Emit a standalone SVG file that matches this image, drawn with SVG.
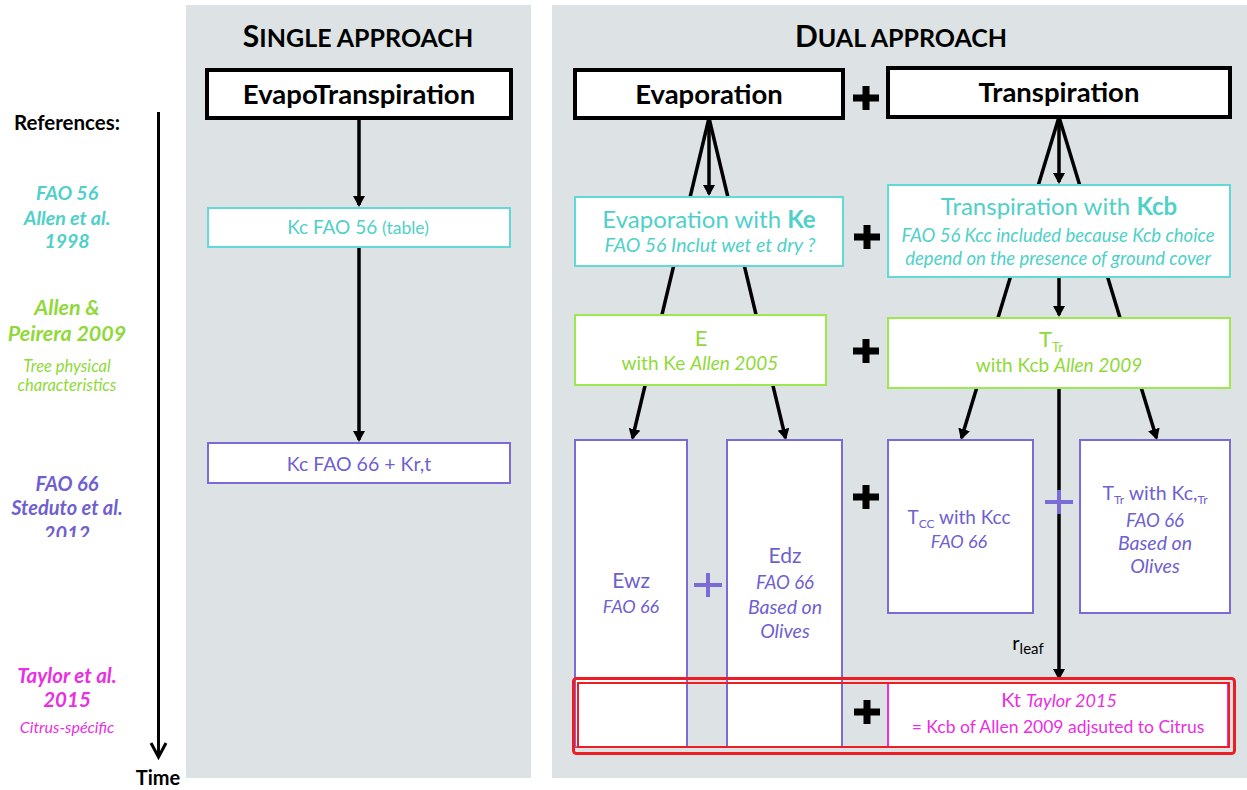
<svg xmlns="http://www.w3.org/2000/svg" width="1247" height="790" viewBox="0 0 1247 790">
<defs>
<style>
text{font-family:Lato,"Open Sans","Liberation Sans",sans-serif;text-anchor:middle}
.b{font-weight:bold}
.i{font-style:italic}
.panel{fill:#dde3e4}
.blk{fill:#fff;stroke:#000;stroke-width:4}
.cy{fill:#fff;stroke:#62d9d6;stroke-width:2}
.gr{fill:#fff;stroke:#9de84f;stroke-width:2}
.pu{fill:#fff;stroke:#7b6bd6;stroke-width:2}
.mg{fill:#fff;stroke:#ea2fe0;stroke-width:2}
.tcy{fill:#4fd0c8}
.tgr{fill:#8fd93a}
.tpu{fill:#6f5fcf}
.tmg{fill:#e92fe0}
.conn{stroke:#000;stroke-width:3.5;fill:none;marker-end:url(#ah)}
.plus{stroke:#000;stroke-width:7;fill:none}
.pplus{stroke:#7b6bd6;stroke-width:4;fill:none}
.title{font-weight:bold;font-size:27.5px}
</style>
<marker id="ah" markerUnits="userSpaceOnUse" markerWidth="12" markerHeight="12" refX="9" refY="6" orient="auto">
<path d="M0,0 L11,6 L0,12 z" fill="#000"/>
</marker>
<clipPath id="clip2012"><rect x="0" y="400" width="180" height="137"/></clipPath>
</defs>

<g id="panels">
<rect class="panel" x="186" y="5" width="345" height="773"/>
<rect class="panel" x="552" y="5" width="695" height="773"/>
<text class="b" x="358" y="47" font-size="30">S<tspan font-size="25">INGLE APPROACH</tspan></text>
<text class="b" x="901" y="47" font-size="30">D<tspan font-size="25">UAL APPROACH</tspan></text>
</g>

<g id="timeline">
<text class="b" x="67" y="130" font-size="20.5">References:</text>
<path d="M158.5,112 V756 M151,743 L158.5,757 L166,743" stroke="#000" stroke-width="3" fill="none"/>
<text class="b" x="158" y="785" font-size="20">Time</text>
<text x="67" y="200" class="b i tcy" font-size="19.5">FAO 56</text>
<text x="67" y="225" class="b i tcy" font-size="19.5">Allen et al.</text>
<text x="67" y="248" class="b i tcy" font-size="19.5">1998</text>
<text x="67" y="315" class="b i tgr" font-size="21.5">Allen &amp;</text>
<text x="67" y="341" class="b i tgr" font-size="21.5">Peirera 2009</text>
<text x="67" y="372" class="i tgr" font-size="16.5">Tree physical</text>
<text x="67" y="391" class="i tgr" font-size="16.5">characteristics</text>
<text x="67" y="491" class="b i tpu" font-size="20">FAO 66</text>
<text x="67" y="515" class="b i tpu" font-size="20">Steduto et al.</text>
<text x="67" y="541" class="b i tpu" font-size="20" clip-path="url(#clip2012)">2012</text>
<text x="67" y="683" class="b i tmg" font-size="20.5">Taylor et al.</text>
<text x="67" y="707" class="b i tmg" font-size="20.5">2015</text>
<text x="67" y="733" class="i tmg" font-size="16">Citrus-spécific</text>
</g>

<g id="connectors">
<path class="conn" d="M359,118 V205"/>
<path class="conn" d="M359,248 V440"/>
<path class="conn" d="M709,118 V194"/>
<path class="conn" d="M709,118 L632.5,438"/>
<path class="conn" d="M709,118 L785.5,438"/>
<path class="conn" d="M1059,117 V182"/>
<path class="conn" d="M1059,117 L961.5,438"/>
<path class="conn" d="M1059,117 L1156.5,438"/>
<path class="conn" d="M1059,277 V315"/>
<path class="conn" d="M1059,388 V678"/>
</g>

<g id="n-et">
<rect class="blk" x="207" y="70" width="304" height="48"/>
<text class="title" x="359" y="104">EvapoTranspiration</text>
</g>
<g id="n-kc56">
<rect class="cy" x="208" y="208" width="302" height="39"/>
<text class="tcy" x="358" y="234" font-size="19">Kc FAO 56 <tspan font-size="17.5">(table)</tspan></text>
</g>
<g id="n-kc66">
<rect class="pu" x="208" y="443" width="302" height="40"/>
<text class="tpu" x="359" y="471" font-size="19.5">Kc FAO 66 + Kr,t</text>
</g>

<g id="n-evap">
<rect class="blk" x="575" y="70" width="268" height="48"/>
<text class="title" x="709" y="104">Evaporation</text>
</g>
<g id="n-transp">
<rect class="blk" x="888" y="68" width="342" height="49"/>
<text class="title" x="1059" y="102">Transpiration</text>
</g>
<g id="n-ke">
<rect class="cy" x="575" y="197" width="268" height="69"/>
<text class="tcy" x="709" y="228" font-size="24">Evaporation with  <tspan class="b">Ke</tspan></text>
<text class="i tcy" x="710" y="252" font-size="19.5">FAO 56 Inclut wet et dry ?</text>
</g>
<g id="n-kcb">
<rect class="cy" x="888" y="185" width="342" height="92"/>
<text class="tcy" x="1059" y="215" font-size="24">Transpiration with <tspan class="b">Kcb</tspan></text>
<text class="i tcy" x="1058" y="242" font-size="18.5">FAO 56 Kcc included because Kcb choice</text>
<text class="i tcy" x="1058" y="265" font-size="18.5">depend on the presence of ground cover</text>
</g>
<g id="n-e">
<rect class="gr" x="575" y="315" width="251" height="70"/>
<text class="tgr" x="701" y="346" font-size="22">E</text>
<text class="tgr" x="700" y="370" font-size="19">with Ke <tspan class="i">Allen 2005</tspan></text>
</g>
<g id="n-ttr">
<rect class="gr" x="888" y="318" width="342" height="70"/>
<text class="tgr" x="1051" y="347" font-size="22">T<tspan font-size="13" dy="5">Tr</tspan></text>
<text class="tgr" x="1059" y="372" font-size="19">with Kcb <tspan class="i">Allen 2009</tspan></text>
</g>
<g id="n-ewz">
<rect class="pu" x="575" y="440" width="112" height="307"/>
<text class="tpu" x="631" y="588" font-size="21">Ewz</text>
<text class="i tpu" x="631" y="613" font-size="18">FAO 66</text>
</g>
<g id="n-edz">
<rect class="pu" x="727" y="440" width="115" height="307"/>
<text class="tpu" x="785" y="563" font-size="21">Edz</text>
<text class="i tpu" x="785" y="589" font-size="18.5">FAO 66</text>
<text class="i tpu" x="785" y="614" font-size="19.5">Based on</text>
<text class="i tpu" x="785" y="638" font-size="19.5">Olives</text>
</g>
<g id="n-tcc">
<rect class="pu" x="888" y="440" width="145" height="173"/>
<text class="tpu" x="959" y="524" font-size="19">T<tspan font-size="12" dy="4">CC</tspan><tspan dy="-4"> with Kcc</tspan></text>
<text class="i tpu" x="959" y="548" font-size="18">FAO 66</text>
</g>
<g id="n-tkctr">
<rect class="pu" x="1080" y="440" width="150" height="173"/>
<text class="tpu" x="1155" y="500" font-size="19.5">T<tspan font-size="12" dy="4">Tr</tspan><tspan dy="-4"> with  Kc,</tspan><tspan font-size="12" dy="4">Tr</tspan></text>
<text class="i tpu" x="1155" y="527" font-size="18.5">FAO 66</text>
<text class="i tpu" x="1155" y="550" font-size="19.5">Based on</text>
<text class="i tpu" x="1155" y="573" font-size="19.5">Olives</text>
</g>
<g id="n-kt">
<rect class="mg" x="888" y="683" width="340" height="64"/>
<text class="tmg" x="1059" y="707" font-size="20">Kt <tspan class="i" font-size="18">Taylor 2015</tspan></text>
<text class="tmg" x="1058" y="733" font-size="17.5">= Kcb of Allen 2009 adjsuted to Citrus</text>
</g>
<g id="n-rleaf">
<text x="1028" y="650" font-size="20">r<tspan font-size="15" dy="4">leaf</tspan></text>
</g>

<g id="n-taylorframe">
<rect x="573.5" y="678.5" width="661" height="75" rx="3" fill="none" stroke="#ee1c25" stroke-width="3"/>
<rect x="578" y="683" width="651" height="64" fill="none" stroke="#ee1c25" stroke-width="2"/>
</g>

<g id="plus-signs">
<path class="plus" d="M853,98 H879 M866,86 V110"/>
<path class="plus" d="M854,237 H880 M867,225 V249"/>
<path class="plus" d="M853,351 H879 M866,339 V363"/>
<path class="plus" d="M853,497 H879 M866,485 V509"/>
<path class="plus" d="M854,712 H880 M867,700 V724"/>
<path class="pplus" d="M694,585 H722 M708,573 V597"/>
<path class="pplus" d="M1045,502 H1073 M1059,490 V514"/>
</g>
</svg>
